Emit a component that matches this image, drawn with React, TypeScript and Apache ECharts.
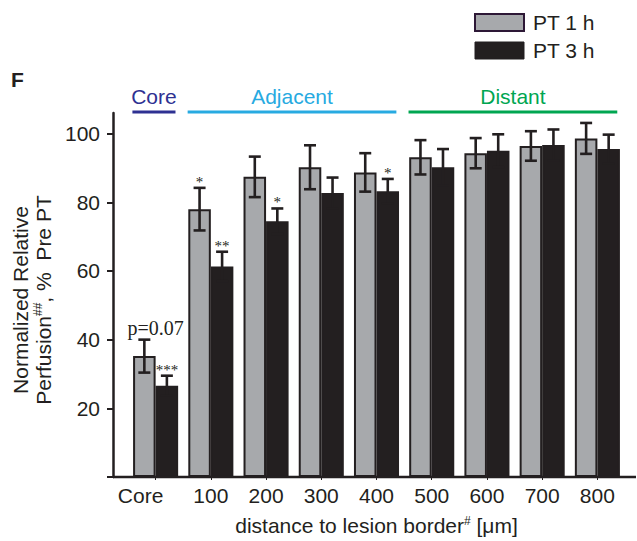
import React, { useEffect, useRef } from "react";
import * as echarts from "echarts";

const categories = ["Core", "100", "200", "300", "400", "500", "600", "700", "800"];
const pt1Values = [35.2, 78.0, 87.4, 90.2, 88.7, 93.1, 94.3, 96.4, 98.6];
const pt1Errors = [4.8, 6.2, 5.9, 6.4, 5.6, 5.0, 4.4, 4.3, 4.5];
const pt3Values = [26.6, 61.3, 74.5, 82.7, 83.2, 90.2, 95.0, 96.7, 95.5];
const pt3Errors = [2.9, 4.3, 3.7, 4.5, 3.6, 5.3, 4.8, 4.5, 4.2];
const pt1Marks = ["p=0.07", "*", "", "", "", "", "", "", ""];
const pt3Marks = ["***", "**", "*", "", "*", "", "", "", ""];
const yTickValues = [0, 20, 40, 60, 80, 100];
const yLabelValues = [20, 40, 60, 80, 100];
const groupNames = ["Core", "Adjacent", "Distant"];
const groupFrom = [0, 1, 5];
const groupTo = [0, 4, 8];
const groupColors = ["#2e3192", "#27aae1", "#00a651"];

const INK = "#231f20";
const GREY = "#a7a9ac";
const SANS = "Liberation Sans, Arial, sans-serif";
const SERIF = "Liberation Serif, Times New Roman, serif";
const GRID_LEFT = 128;
const GRID_RIGHT = 12;
const GRID_TOP = 113;
const GRID_BOTTOM = 62;
const Y_OFFSET = 15;
const BAR_FRAC = 0.408;

function errorSeries(name: string, values: number[], errors: number[], marks: string[], side: number) {
  return {
    type: "custom",
    name,
    z: 5,
    silent: true,
    itemStyle: { color: INK },
    data: values.map((v, i) => [i, v, errors[i]]),
    encode: { x: 0, y: 1 },
    renderItem: (params: any, api: any) => {
      const i = api.value(0);
      const v = api.value(1);
      const e = api.value(2);
      const band = api.size([1, 0])[0];
      const cx = api.coord([i, v])[0];
      const x = cx + side * band * BAR_FRAC / 2;
      const yTop = api.coord([i, v + e])[1];
      const yBot = api.coord([i, v - e])[1];
      const cap = 6;
      const st = { stroke: INK, lineWidth: 2.6 };
      const children: any[] = [
        { type: "line", shape: { x1: x, y1: yTop, x2: x, y2: yBot }, style: st },
        { type: "line", shape: { x1: x - cap, y1: yTop, x2: x + cap, y2: yTop }, style: st },
        { type: "line", shape: { x1: x - cap, y1: yBot, x2: x + cap, y2: yBot }, style: st },
      ];
      const m = marks[params.dataIndex];
      if (m) {
        const isStar = m.indexOf("*") >= 0;
        children.push({
          type: "text",
          x: isStar ? x : cx,
          y: isStar ? yTop - 6 : yTop - 12,
          style: {
            text: m,
            align: "center",
            verticalAlign: "middle",
            fontFamily: SERIF,
            fontSize: isStar ? 15 : 20,
            fill: INK,
          },
        });
      }
      return { type: "group", children };
    },
  };
}

export default function App() {
  const ref = useRef<HTMLDivElement>(null);
  useEffect(() => {
    if (!ref.current) return;
    const chart = echarts.init(ref.current, undefined, { renderer: "svg" });
    const option: any = {
      animation: false,
      backgroundColor: "#ffffff",
      grid: { left: GRID_LEFT, right: GRID_RIGHT, top: GRID_TOP, bottom: GRID_BOTTOM },
      legend: {
        left: 474,
        top: 12,
        padding: 0,
        orient: "vertical",
        itemWidth: 49,
        itemHeight: 17,
        itemGap: 7,
        icon: "rect",
        selectedMode: false,
        textStyle: { fontFamily: SANS, fontSize: 21, color: INK, lineHeight: 21, padding: [0, 0, 0, 4] },
        data: [
          { name: "PT 1 h", itemStyle: { color: GREY, borderColor: "#2d1836", borderWidth: 2 } },
          { name: "PT 3 h", itemStyle: { color: INK, borderColor: INK, borderWidth: 1 } },
        ],
      },
      xAxis: {
        type: "category",
        data: categories.map((c, i) =>
          i === 0 ? { value: c, textStyle: { padding: [0, 30, 0, 0] } } : c
        ),
        axisLine: { show: false },
        axisTick: { show: true, alignWithLabel: true, interval: 0, length: 3, lineStyle: { color: INK, width: 1 } },
        axisLabel: { fontFamily: SANS, fontSize: 21, color: INK, margin: 8, interval: 0 },
        name: "{t|distance to lesion border}{s|#}{t| [μm]}",
        nameLocation: "middle",
        nameGap: 38,
        nameTextStyle: {
          rich: {
            t: { fontFamily: SANS, fontSize: 21, color: INK },
            s: { fontFamily: SANS, fontSize: 12, color: INK, verticalAlign: "top" },
          },
        },
      },
      yAxis: {
        type: "value",
        min: 0,
        max: 106,
        interval: 20,
        offset: Y_OFFSET,
        splitLine: { show: false },
        axisLine: { show: true, lineStyle: { color: INK, width: 2.5 } },
        axisTick: { show: true, length: 6, customValues: yTickValues, lineStyle: { color: INK, width: 2 } },
        axisLabel: {
          fontFamily: SANS,
          fontSize: 21,
          color: INK,
          margin: 13,
          customValues: yLabelValues,
          formatter: (v: number) => (v > 0 && v % 20 === 0 ? String(v) : ""),
        },
        name: "{t|Normalized Relative}\n{t|Perfusion}{s|##}{t|, %  Pre PT}",
        nameLocation: "middle",
        nameRotate: 90,
        nameGap: 58,
        nameTextStyle: {
          padding: [0, 10, 0, 0],
          rich: {
            t: { fontFamily: SANS, fontSize: 21, color: INK, lineHeight: 23 },
            s: { fontFamily: SANS, fontSize: 12, color: INK, lineHeight: 23, verticalAlign: "top" },
          },
        },
      },
      series: [
        {
          type: "bar",
          name: "PT 1 h",
          data: pt1Values,
          barWidth: (BAR_FRAC * 100).toFixed(1) + "%",
          barGap: "0%",
          itemStyle: { color: GREY, borderColor: INK, borderWidth: 2 },
          emphasis: { disabled: true },
        },
        {
          type: "bar",
          name: "PT 3 h",
          data: pt3Values,
          barWidth: (BAR_FRAC * 100).toFixed(1) + "%",
          barGap: "0%",
          itemStyle: { color: INK, borderColor: INK, borderWidth: 2 },
          emphasis: { disabled: true },
        },
        errorSeries("err1", pt1Values, pt1Errors, pt1Marks, -1),
        errorSeries("err3", pt3Values, pt3Errors, pt3Marks, 1),
      ],
    };
    chart.setOption(option);

    const cx = (i: number) => chart.convertToPixel({ xAxisIndex: 0 }, i) as number;
    const band = cx(1) - cx(0);
    const y0 = chart.convertToPixel({ yAxisIndex: 0 }, 0) as number;
    const graphics: any[] = [
      {
        type: "line",
        shape: { x1: GRID_LEFT - Y_OFFSET, y1: y0, x2: 636, y2: y0 },
        style: { stroke: INK, lineWidth: 2.5 },
        z: 10,
      },
      {
        type: "text",
        x: 11,
        y: 79,
        style: { text: "F", fontFamily: SANS, fontWeight: "bold", fontSize: 21, fill: INK, verticalAlign: "middle" },
      },
    ];
    groupNames.forEach((g, k) => {
      const x1 = cx(groupFrom[k]) - band * 0.42;
      const x2 = cx(groupTo[k]) + band * 0.36;
      graphics.push({
        type: "line",
        shape: { x1, y1: 112, x2, y2: 112 },
        style: { stroke: groupColors[k], lineWidth: 3 },
      });
      graphics.push({
        type: "text",
        x: (x1 + x2) / 2,
        y: 96,
        style: {
          text: g,
          fontFamily: SANS,
          fontSize: 21,
          fill: groupColors[k],
          align: "center",
          verticalAlign: "middle",
        },
      });
    });
    chart.setOption({ graphic: graphics });

    return () => chart.dispose();
  }, []);
  return <div ref={ref} style={{ width: 637, height: 541, position: "absolute", left: 0, top: 0 }} />;
}
